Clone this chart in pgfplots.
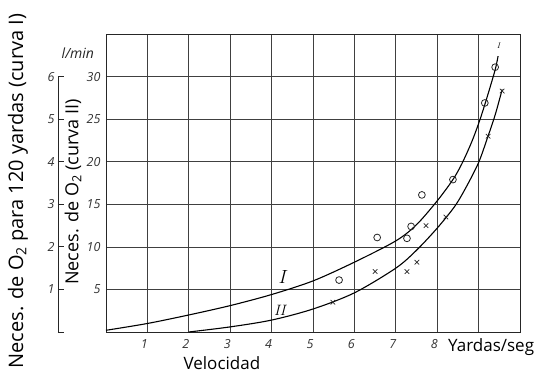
\documentclass[border=0pt]{standalone}
\usepackage{fontspec}
\setmainfont{Open Sans}
\usepackage{pgfplots}
\pgfplotsset{compat=1.18}

% Curve I: oxygen requirement for 120 yards
\pgfplotstableread{
x y
0    0.2
1    1.0
2    2.0
3    3.1
4    4.4
5    6.0
6    8.2
7    10.7
7.5  12.6
8    15.4
8.38 17.9
8.6  19.8
8.84 22.4
9.03 24.9
9.2  27.5
9.4  30.8
9.47 32.4
}\curveI
% Curve II: oxygen requirement per minute
\pgfplotstableread{
x y
2    0.0
3    0.6
4    1.4
5    2.7
6    4.6
7    7.5
7.5  9.6
8    12.2
8.43 14.8
8.72 17.2
9.0  19.9
9.2  22.6
9.4  25.5
9.57 28.5
}\curveII
% Measured points
\pgfplotstableread{
x y
5.63 6.1
6.55 11.1
7.27 11.0
7.37 12.4
7.63 16.1
8.38 17.9
9.15 26.9
9.40 31.1
}\pointsI
\pgfplotstableread{
x y
5.48 3.5
6.50 7.1
7.27 7.1
7.51 8.2
7.73 12.5
8.21 13.5
9.23 23.0
9.57 28.3
}\pointsII

\begin{document}
\begin{tikzpicture}
\useasboundingbox (-106pt,-45pt) rectangle (433pt,332pt);
\begin{axis}[
  at={(0pt,0pt)}, anchor=south west,
  scale only axis, width=414pt, height=298pt,
  xmin=0, xmax=10, ymin=0, ymax=35,
  xtick={1,...,9}, xticklabels={1,2,3,4,5,6,7,8,{}},
  ytick={5,10,...,30},
  grid=major,
  major grid style={black!75, line width=0.7pt},
  axis line style={black!85, line width=0.9pt},
  major tick length=0pt,
  /pgf/number format/assume math mode=true,
  tick label style={font=\itshape\fontsize{12.5}{12.5}\selectfont, text=black!80},
  xticklabel style={yshift=-4pt, xshift=-3pt},
  yticklabel style={xshift=-2pt},
  clip=false,
]
\addplot[smooth, black, line width=1.1pt, no markers] table {\curveI};
\addplot[smooth, black, line width=1.1pt, no markers] table {\curveII};
\addplot[only marks, mark=o, mark size=3.4pt, black!85, mark options={line width=0.8pt}] table {\pointsI};
\addplot[only marks, mark=x, mark size=3.2pt, black!85, mark options={line width=0.7pt}] table {\pointsII};

\node[font=\fontfamily{lmr}\itshape\fontsize{19}{19}\selectfont] at (axis cs:4.25,6.4) {I};
\node[font=\fontfamily{lmr}\itshape\fontsize{15}{15}\selectfont] at (axis cs:4.2,2.5) {II};
\node[font=\fontfamily{lmr}\itshape\fontsize{8}{8}\selectfont] at (axis cs:9.48,33.6) {I};

\node[font=\itshape\fontsize{14}{14}\selectfont, text=black!85] at (axis description cs:-0.068,0.936) {l/min};
\node[rotate=90, font=\fontsize{20}{20}\selectfont] at (axis description cs:-0.2126,0.473)
  {Neces. de O\textsubscript{2} para 120 yardas (curva I)};
\node[rotate=90, font=\fontsize{18}{18}\selectfont] at (axis description cs:-0.0797,0.47)
  {Neces. de O\textsubscript{2} (curva II)};
\node[font=\fontsize{17}{17}\selectfont] at (axis description cs:0.28,-0.104) {Velocidad};
\node[anchor=west, font=\fontsize{17}{17}\selectfont] at (axis description cs:0.818,-0.05) {Yardas/seg};
\end{axis}

% Second scale: requirement for 120 yards (curve I)
\begin{axis}[
  at={(-48pt,0pt)}, anchor=south west,
  scale only axis, width=1pt, height=255.4pt,
  xmin=0, xmax=1, ymin=0, ymax=6,
  hide x axis, axis y line*=left,
  ytick={0,...,6}, yticklabels={{},1,2,3,4,5,6},
  tick align=inside, major tick length=6pt,
  axis line style={black!85, line width=0.9pt},
  every tick/.style={black!85, line width=0.9pt},
  /pgf/number format/assume math mode=true,
  tick label style={font=\itshape\fontsize{12.5}{12.5}\selectfont, text=black!80},
]
\addplot[draw=none] coordinates {(0,0)};
\end{axis}
\end{tikzpicture}
\end{document}
